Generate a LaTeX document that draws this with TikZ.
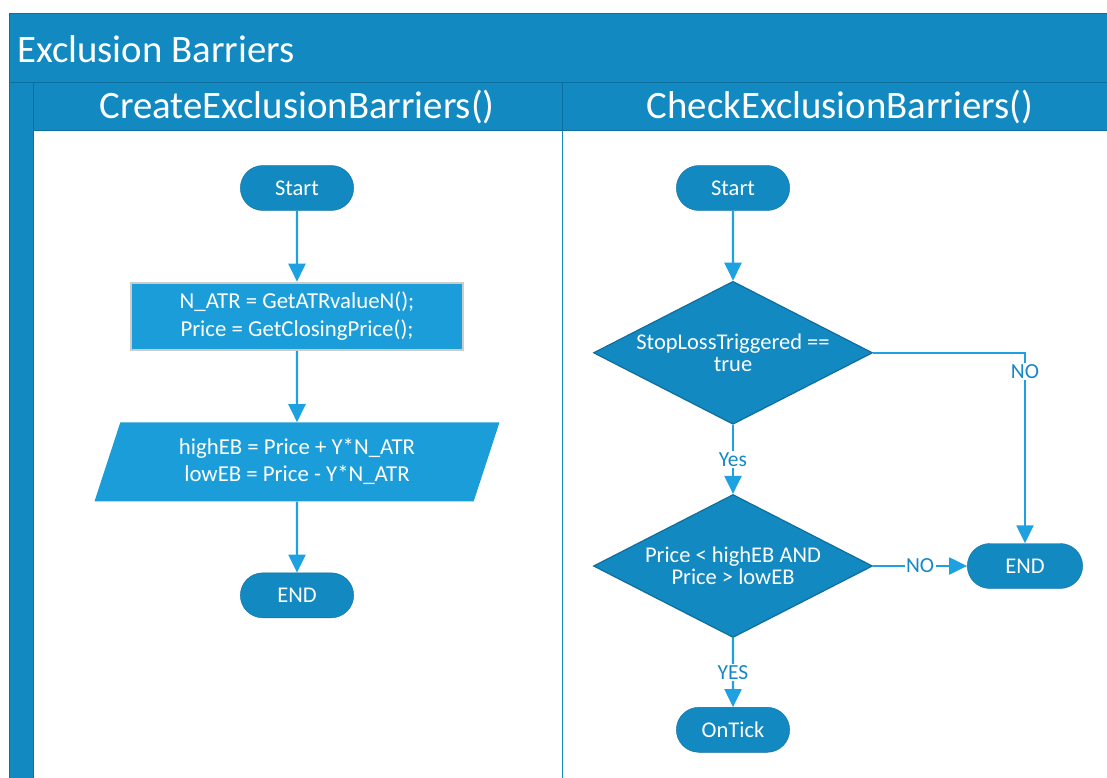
\documentclass[tikz,border=0pt]{standalone}
\usepackage{fontspec}
\setmainfont{Carlito}
\usetikzlibrary{positioning}
\usetikzlibrary{arrows.meta}
\usetikzlibrary{shapes.geometric,shapes.misc}
\definecolor{headblue}{HTML}{1289C0}
\definecolor{rimblue}{HTML}{0E6E9E}
\definecolor{brightfill}{HTML}{1B9DD9}
\definecolor{arrowblue}{HTML}{1DA1E0}
\definecolor{labelblue}{HTML}{1589C6}
\tikzset{term node/.style={rounded rectangle,draw=rimblue,fill=headblue,minimum width=120pt,minimum height=45pt,text=white,font=\fontsize{22.5}{26}\selectfont},
  proc node/.style={rectangle,draw=gray!40,line width=2.5pt,fill=brightfill,minimum width=332pt,minimum height=67pt,text=white,align=center,font=\fontsize{22.8}{28}\selectfont},
  io node/.style={trapezium,trapezium left angle=64,trapezium right angle=116,trapezium stretches body=true,fill=brightfill,minimum width=405pt,minimum height=79pt,text=white,align=center,font=\fontsize{22.8}{27}\selectfont},
  dec node/.style={diamond,aspect=1.95,draw=rimblue,line width=1.2pt,fill=headblue,inner sep=0pt,minimum width=279pt,minimum height=143pt,text=white,align=center,font=\fontsize{22.5}{22}\selectfont},
  lane title/.style={text=white,inner sep=0pt,font=\fontsize{38.8}{44}\selectfont},
  flow label/.style={fill=white,text=labelblue,inner sep=1.5pt,font=\fontsize{21.5}{24}\selectfont},}

\begin{document}
\begin{tikzpicture}[x=1pt,y=-1pt,node distance=70pt,
    flow/.style={color=arrowblue,line width=2.2pt,-{Triangle[length=18pt,width=17pt]}}]
    \useasboundingbox (0,0) rectangle (1107,778);
    % pool and lane headers
    \fill[headblue] (9,14) rectangle (1107,131);
    \fill[headblue] (9,131) rectangle (33,778);
    \draw[rimblue,line width=1pt] (9,14) -- (1107,14) (9,14) -- (9,778)
      (9,83) -- (1107,83) (33,83) -- (33,778) (33,131) -- (1107,131) (562,83) -- (562,131);
    \draw[headblue,line width=1pt] (562,131) -- (562,778);
    \node[lane title,anchor=west] (pool) at (17,49) {Exclusion Barriers};
    \node[lane title] (lane1) at (297,107) {CreateExclusionBarriers()};
    \node[lane title] (lane2) at (840,107) {CheckExclusionBarriers()};

    % CreateExclusionBarriers()
    \node[term node] (start1) at (297,188) {Start};
    \node[proc node] (getvals) [below = 71pt of start1] {N\_ATR = GetATRvalueN();\\Price = GetClosingPrice();};
    \node[io node] (setEB) [below = 71pt of getvals] {highEB = Price + Y*N\_ATR\\lowEB = Price - Y*N\_ATR};
    \node[term node] (end1) [below = 71pt of setEB] {END};

    % CheckExclusionBarriers()
    \node[term node] (start2) at (733,188) {Start};
    \node[dec node] (stoploss) [below = of start2] {StopLossTriggered ==\\true};
    \node[dec node] (inside) [below = 69pt of stoploss] {Price < highEB AND\\Price > lowEB};
    \node[term node,minimum width=122pt] (end2) [right = 94pt of inside] {END};
    \node[term node] (ontick) [below = 69pt of inside] {OnTick};

    \path[flow]
    (start1) edge (getvals)
    (getvals) edge (setEB)
    (setEB) edge (end1)
    (start2) edge (stoploss)
    (stoploss) edge node[flow label] {Yes} (inside)
    (inside) edge node[flow label] {NO} (end2)
    (inside) edge node[flow label] {YES} (ontick);
    \draw[flow] (stoploss.east) -| node[flow label,pos=0.55] {NO} (end2.north);
\end{tikzpicture}
\end{document}
